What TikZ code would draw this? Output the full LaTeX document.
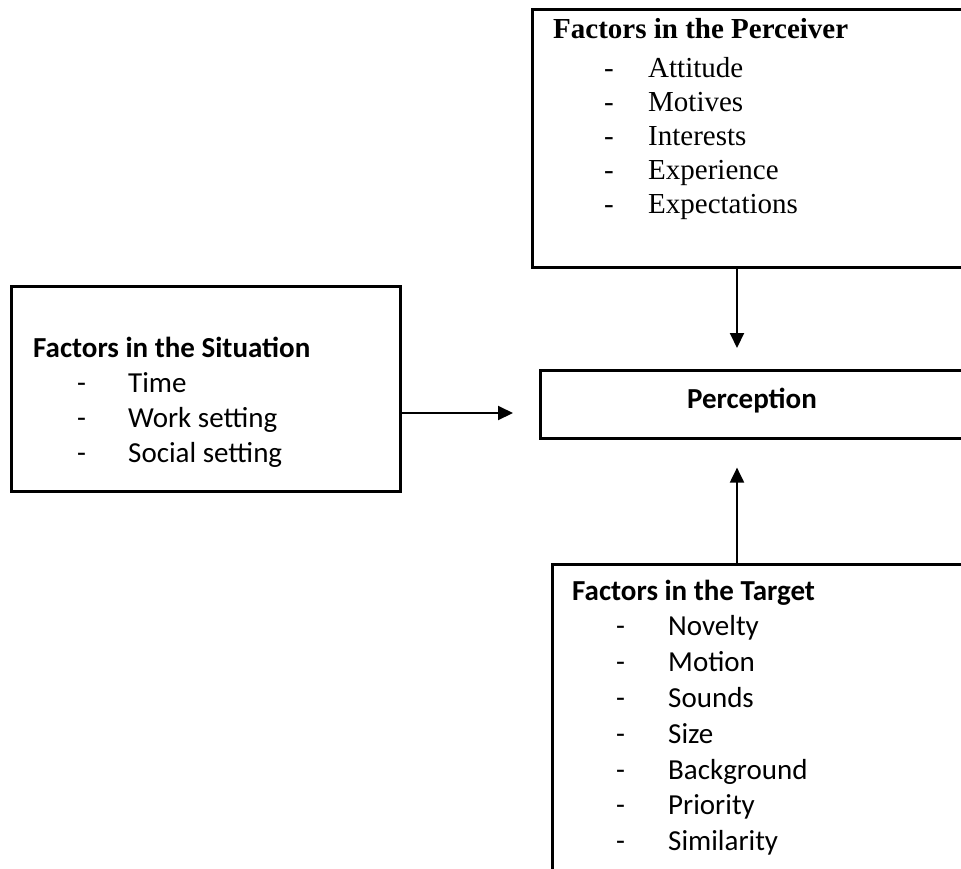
\documentclass[tikz,border=0pt]{standalone}
\usepackage{fontspec}
\usetikzlibrary{arrows.meta}
\newfontfamily\calfont{Carlito}
\newfontfamily\tnrfont{Liberation Serif}
\begin{document}
\begin{tikzpicture}[x=1pt,y=-1pt,
  box/.style={draw=black,line width=2.6pt,rectangle,inner sep=0pt,anchor=north west},
  arr/.style={line width=2pt,-{Triangle[length=15pt,width=14pt]}},
  calt/.style={font=\calfont\bfseries\fontsize{29}{35}\selectfont,inner sep=0pt,anchor=base west},
  cali/.style={font=\calfont\fontsize{29}{35}\selectfont,inner sep=0pt,anchor=base west},
  tnrt/.style={font=\tnrfont\bfseries\fontsize{29}{34}\selectfont,inner sep=0pt,anchor=base west},
  tnri/.style={font=\tnrfont\fontsize{29}{34}\selectfont,inner sep=0pt,anchor=base west}]
\useasboundingbox (0,0) rectangle (961,868);
\clip (0,0) rectangle (961,868);
\fill[white] (0,0) rectangle (961,868);
% boxes
\node[box,minimum width=435pt,minimum height=258pt] (perc) at (531,8) {};
\node[box,minimum width=389pt,minimum height=205pt] (sit) at (10,285) {};
\node[box,minimum width=427pt,minimum height=68pt] (pcp) at (539,369) {};
\node[box,minimum width=415pt,minimum height=320pt] (tgt) at (551,563) {};
\node[font=\calfont\bfseries\fontsize{29}{35}\selectfont,inner sep=0pt,anchor=base] (pcptxt) at (752,408) {Perception};
% perceiver text
\node[tnrt] (perct) at (553,38) {Factors in the Perceiver};
\foreach \t [count=\i] in {Attitude,Motives,Interests,Experience,Expectations} {
  \node[tnri] (percd\i) at (604,44+33.8*\i) {-};
  \node[tnri] (perci\i) at (648,44+33.8*\i) {\t};
}
% situation text
\node[calt] (sitt) at (33,357) {Factors in the Situation};
\foreach \t [count=\i] in {Time,Work setting,Social setting} {
  \node[cali] (sitd\i) at (77,357+35.3*\i) {-};
  \node[cali] (siti\i) at (128,357+35.3*\i) {\t};
}
% target text
\node[calt] (tgtt) at (572,600) {Factors in the Target};
\foreach \t [count=\i] in {Novelty,Motion,Sounds,Size,Background,Priority,Similarity} {
  \node[cali] (tgtd\i) at (616,600+35.8*\i) {-};
  \node[cali] (tgti\i) at (668,600+35.8*\i) {\t};
}
% connectors
\coordinate (ax) at (737,0);
\coordinate (ay) at (0,413);
\draw[arr,shorten >=21pt] (perc.south -| ax) -- (pcp.north -| ax);
\draw[arr,shorten >=28pt] (tgt.north -| ax) -- (pcp.south -| ax);
\draw[arr,shorten >=26pt] (sit.east |- ay) -- (pcp.west |- ay);
\end{tikzpicture}
\end{document}
